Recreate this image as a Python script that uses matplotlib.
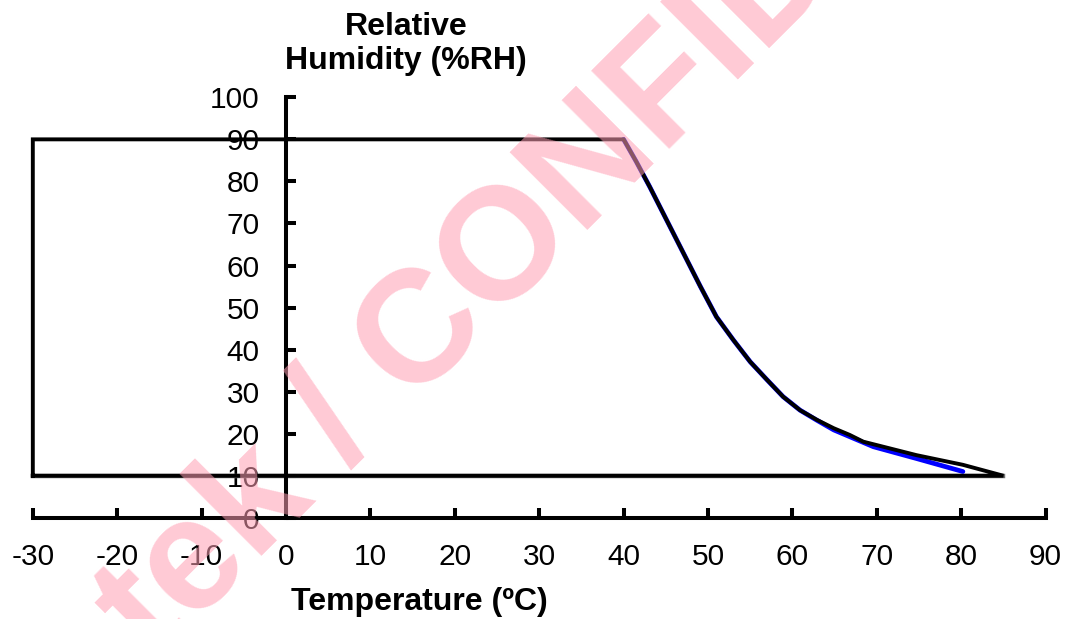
import matplotlib
matplotlib.use('Agg')
import matplotlib.pyplot as plt

plt.rcParams['font.family'] = ['Liberation Sans', 'DejaVu Sans']
plt.rcParams['axes.unicode_minus'] = False

# operating envelope (black outline)
env_temp = [-30, -30, 40, 41.5, 43.1, 45.1, 47.1, 49.1, 51.0, 53.0, 55.0, 57.0,
            58.9, 60.9, 62.9, 64.9, 66.8, 68.4, 74.7, 80.2, 85, -30]
env_rh = [10, 90, 90, 84.7, 78.7, 70.8, 62.9, 55.0, 47.8, 42.3, 37.1, 32.8,
          28.8, 25.6, 23.3, 21.3, 19.7, 18.1, 14.9, 12.6, 10, 10]

# blue curve underneath
blue_temp = [40, 41.5, 43.1, 45.1, 47.1, 49.1, 51.0, 53.0, 55.0, 57.0,
             58.9, 60.9, 62.9, 64.9, 69.6, 74.7, 80.2]
blue_rh = [90, 84.7, 78.7, 70.8, 62.9, 55.0, 47.8, 42.3, 37.1, 32.8,
           28.8, 25.6, 23.2, 20.9, 16.9, 14.1, 11.0]

# grey line along the lower limit
grey_temp = [-30, 85]
grey_rh = [10, 10]

x_ticks = list(range(-30, 91, 10))
y_ticks = list(range(0, 101, 10))

fig = plt.figure(figsize=(10.69, 6.19), dpi=100)
ax = fig.add_axes([0.0307, 0.1635, 0.9474, 0.6793])

ax.plot(grey_temp, grey_rh, color='#707070', lw=3.2, clip_on=False, zorder=2)
ax.plot(blue_temp, blue_rh, color='#0000ff', lw=3.4, clip_on=False, zorder=3,
        solid_capstyle='round')
ax.plot(env_temp, env_rh, color='black', lw=2.8, clip_on=False, zorder=4,
        solid_joinstyle='miter')

ax.set_xlim(-30, 90)
ax.set_ylim(0, 100)
ax.set_xticks(x_ticks)
ax.set_yticks(y_ticks)

for s in ['top', 'right']:
    ax.spines[s].set_visible(False)
ax.spines['left'].set_position(('data', 0))
ax.spines['bottom'].set_position(('data', 0))
for s in ['left', 'bottom']:
    ax.spines[s].set_linewidth(2.9)
    ax.spines[s].set_capstyle('projecting')

ax.tick_params(axis='both', direction='in', length=7, width=2.9, labelsize=21.5)
ax.tick_params(axis='x', pad=18)
ax.tick_params(axis='y', pad=19)

ax.set_xlabel('Temperature (ºC)', fontsize=23, fontweight='bold')
ax.xaxis.set_label_coords(0.3813, -0.200)
ax.xaxis.label.set_va('center')

ax.set_ylabel('Relative\nHumidity (%RH)', fontsize=23, fontweight='bold',
              rotation=0, linespacing=1.15)
ax.yaxis.set_label_coords(0.3685, 1.127)
ax.yaxis.label.set_va('center')
ax.yaxis.label.set_ha('center')

# watermark
fig.text(154 / 1069, 1 - 664 / 619, 'tek / CONFIDENTIAL', fontsize=115,
         fontweight='bold', color=(1.0, 0.62, 0.70), alpha=0.55,
         rotation=45, rotation_mode='anchor', ha='left', va='baseline',
         zorder=10)

plt.savefig('out.png', dpi=100)
